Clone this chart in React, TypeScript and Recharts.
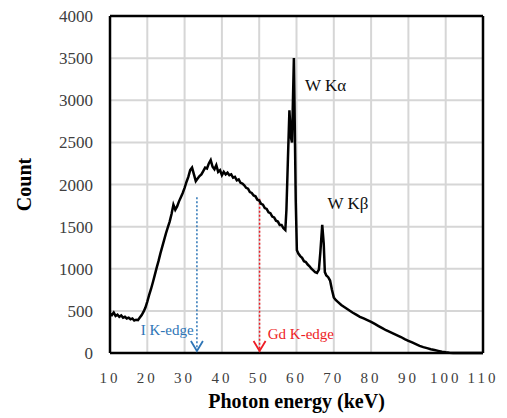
import React from 'react';
import {
  LineChart,
  Line,
  XAxis,
  YAxis,
  CartesianGrid,
  ReferenceLine,
  ReferenceDot,
} from 'recharts';

// photon energy (keV) and counts
const energy = [
  10, 10.5, 11, 11.5, 12, 12.5, 13, 13.5, 14, 14.5, 15, 15.5, 16, 16.5, 17, 17.5, 18, 18.5, 19, 19.5,
  20, 20.5, 21, 21.5, 22, 22.5, 23, 23.5, 24, 24.5, 25, 25.5, 26, 26.5, 27, 27.5, 28, 28.5, 29, 29.5,
  30, 30.5, 31, 31.5, 32, 32.5, 33, 33.5, 34, 34.5, 35, 35.5, 36, 36.5, 37, 37.5, 38, 38.5, 39, 39.5,
  40, 40.5, 41, 41.5, 42, 42.5, 43, 43.5, 44, 44.5, 45, 45.5, 46, 46.5, 47, 47.5, 48, 48.5, 49, 49.5,
  50, 50.5, 51, 51.5, 52, 52.5, 53, 53.5, 54, 54.5, 55, 55.5, 56, 56.5, 57, 57.3, 57.7, 58.1, 58.5, 58.8,
  59.3, 59.8, 60.1, 60.5, 61, 61.5, 62, 62.5, 63, 63.5, 64, 64.5, 65, 65.5, 66, 66.4, 66.9, 67.3, 67.6, 68,
  68.5, 69, 69.5, 70, 70.5, 71, 72, 73, 74, 75, 76, 77, 78, 79, 80, 81, 82, 83, 84, 85,
  86, 87, 88, 89, 90, 91, 92, 93, 94, 95, 96, 97, 98, 99, 100, 101, 102, 105, 110,
];
const counts = [
  470, 450, 480, 440, 455, 430, 445, 420, 430, 410, 420, 400, 410, 385, 395, 390, 420, 450, 490, 540,
  610, 690, 760, 840, 925, 1010, 1090, 1180, 1260, 1340, 1420, 1490, 1560, 1650, 1760, 1700, 1740, 1800, 1850, 1900,
  1960, 2030, 2090, 2170, 2200, 2120, 2040, 2070, 2100, 2120, 2160, 2200, 2190, 2250, 2290, 2210, 2180, 2230, 2150, 2170,
  2110, 2150, 2120, 2140, 2110, 2120, 2080, 2090, 2050, 2060, 2020, 2010, 1990, 1960, 1950, 1910, 1900, 1870, 1860, 1820,
  1810, 1770, 1760, 1720, 1710, 1670, 1660, 1620, 1610, 1570, 1560, 1520, 1520, 1480, 1460, 1700, 2300, 2880, 2560, 2500,
  3500, 1800, 1220, 1180, 1150, 1130, 1090, 1080, 1050, 1030, 1000, 980, 960, 950, 990, 1200, 1520, 1300, 960, 920,
  900, 860, 750, 660, 630, 610, 570, 540, 510, 480, 455, 430, 410, 390, 370, 345, 320, 295, 270, 250,
  230, 210, 190, 165, 145, 125, 105, 85, 70, 58, 45, 35, 25, 15, 8, 3, 0, 0, 0,
];

const xTicks = [10, 20, 30, 40, 50, 60, 70, 80, 90, 100, 110];
const yTicks = [0, 500, 1000, 1500, 2000, 2500, 3000, 3500, 4000];
// interior grid lines only; the frame is drawn in black
const xGrid = [20, 30, 40, 50, 60, 70, 80, 90, 100];
const yGrid = [500, 1000, 1500, 2000, 2500, 3000, 3500];

// K-edges: energy, top of dotted line, colour, label
const edges = [
  { name: 'I K-edge', x: 33.3, top: 1850, color: '#2e75b6', labelX: 32.4, labelY: 270, anchor: 'end' },
  { name: 'Gd K-edge', x: 50.1, top: 1830, color: '#ee1c25', labelX: 52.3, labelY: 230, anchor: 'start' },
];
const peaks = [
  { name: 'W K\u03b1', x: 62.3, y: 3180 },
  { name: 'W K\u03b2', x: 68.3, y: 1780 },
];

const data = energy.map((e, i) => ({ energy: e, count: counts[i] }));

const serif = '"Liberation Serif", "DejaVu Serif", serif';

export default function App() {
  return (
    <div style={{ position: 'absolute', left: 0, top: 0, background: '#fff' }}>
      <LineChart width={507} height={418} data={data} margin={{ top: 16, right: 24, left: 0, bottom: 0 }}>
        <CartesianGrid stroke="#d6d6d6" strokeWidth={2} verticalValues={xGrid} horizontalValues={yGrid} />
        <XAxis
          dataKey="energy"
          type="number"
          domain={[10, 110]}
          ticks={xTicks}
          height={65}
          axisLine={{ stroke: '#000', strokeWidth: 2.5 }}
          tickLine={false}
          tickSize={0}
          tickMargin={19}
          tick={{ fontSize: 15, fill: '#404040', fontFamily: serif, letterSpacing: 3 }}
          label={{
            content: (p: any) => (
              <text
                x={p.viewBox.x + p.viewBox.width / 2}
                y={p.viewBox.y + 55}
                textAnchor="middle"
                fontFamily={serif}
                fontWeight="bold"
                fontSize={20}
                fill="#000"
              >
                Photon energy (keV)
              </text>
            ),
          }}
        />
        <YAxis
          type="number"
          domain={[0, 4000]}
          ticks={yTicks}
          width={110}
          axisLine={{ stroke: '#000', strokeWidth: 2.5 }}
          tickLine={false}
          tickSize={0}
          tickMargin={17}
          tick={{ fontSize: 17, fill: '#404040', fontFamily: serif }}
          label={{
            content: (p: any) => {
              const cx = p.viewBox.x + 24;
              const cy = p.viewBox.y + p.viewBox.height / 2;
              return (
                <text
                  x={cx}
                  y={cy}
                  transform={`rotate(-90 ${cx} ${cy})`}
                  textAnchor="middle"
                  dominantBaseline="central"
                  fontFamily={serif}
                  fontWeight="bold"
                  fontSize={20}
                  fill="#000"
                >
                  Count
                </text>
              );
            },
          }}
        />
        <ReferenceLine y={4000} stroke="#000" strokeWidth={2.5} />
        <ReferenceLine x={110} stroke="#000" strokeWidth={2.5} />
        {edges.map((ed) => (
          <ReferenceLine
            key={ed.name}
            segment={[
              { x: ed.x, y: ed.top },
              { x: ed.x, y: 0 },
            ]}
            stroke={ed.color}
            strokeWidth={1.5}
            strokeDasharray="2 2"
          />
        ))}
        {edges.map((ed) => (
          <ReferenceDot
            key={ed.name + '-arrow'}
            x={ed.x}
            y={0}
            r={0}
            shape={(p: any) => (
              <path
                d={`M${p.cx - 6},${p.cy - 12} L${p.cx},${p.cy - 2} L${p.cx + 6},${p.cy - 12}`}
                fill="none"
                stroke={ed.color}
                strokeWidth={1.8}
              />
            )}
          />
        ))}
        {edges.map((ed) => (
          <ReferenceDot
            key={ed.name + '-label'}
            x={ed.labelX}
            y={ed.labelY}
            r={0}
            shape={(p: any) => (
              <text
                x={p.cx}
                y={p.cy}
                textAnchor={ed.anchor}
                dominantBaseline="central"
                fontFamily={serif}
                fontSize={15}
                fill={ed.color}
              >
                {ed.name}
              </text>
            )}
          />
        ))}
        {peaks.map((pk) => (
          <ReferenceDot
            key={pk.name}
            x={pk.x}
            y={pk.y}
            r={0}
            shape={(p: any) => (
              <text
                x={p.cx}
                y={p.cy}
                textAnchor="start"
                dominantBaseline="central"
                fontFamily={serif}
                fontSize={17}
                fill="#111"
              >
                {pk.name}
              </text>
            )}
          />
        ))}
        <Line
          type="linear"
          dataKey="count"
          stroke="#000"
          strokeWidth={2.5}
          dot={false}
          isAnimationActive={false}
        />
      </LineChart>
    </div>
  );
}
